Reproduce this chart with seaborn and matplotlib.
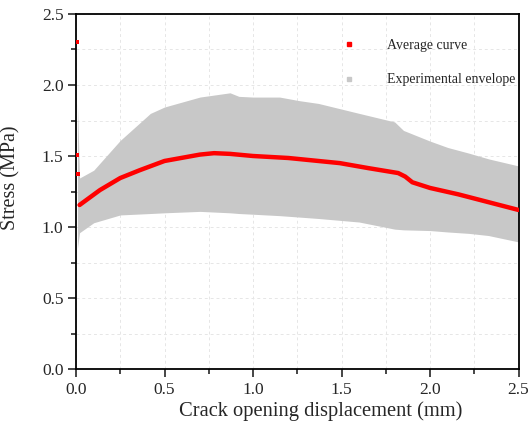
import seaborn as sns
import numpy as np
import pandas as pd
import matplotlib.pyplot as plt
from matplotlib.lines import Line2D
from matplotlib.ticker import MultipleLocator

# average curve
avg_x = [0.02, 0.135, 0.25, 0.36, 0.5, 0.7, 0.78, 0.87, 1.0, 1.2, 1.49, 1.65, 1.82, 1.86, 1.9, 2.0, 2.16, 2.33, 2.5]
avg_y = [1.155, 1.26, 1.345, 1.40, 1.465, 1.51, 1.52, 1.515, 1.50, 1.486, 1.45, 1.415, 1.38, 1.355, 1.315, 1.275, 1.23, 1.175, 1.12]

# stray points at the very start
start_x = [0.004, 0.004, 0.012]
start_y = [2.30, 1.505, 1.37]

# experimental envelope
env_x = [0.008, 0.02, 0.1, 0.25, 0.42, 0.5, 0.7, 0.87, 0.92, 1.0, 1.15, 1.26, 1.37, 1.6, 1.8, 1.85, 2.0, 2.1, 2.22, 2.33, 2.5]
env_hi = [1.87, 1.345, 1.40, 1.61, 1.80, 1.845, 1.915, 1.945, 1.92, 1.915, 1.915, 1.89, 1.87, 1.80, 1.74, 1.68, 1.605, 1.56, 1.52, 1.48, 1.43]
env_lo = [0.85, 0.96, 1.03, 1.085, 1.095, 1.10, 1.11, 1.10, 1.095, 1.09, 1.08, 1.07, 1.06, 1.035, 0.985, 0.98, 0.975, 0.965, 0.955, 0.94, 0.895]

red = "#ff0000"
grey = "#c8c8c8"

sns.set_style("white")
plt.rcParams['font.family'] = ['Liberation Serif', 'DejaVu Serif']

fig = plt.figure(figsize=(5.29, 4.32), dpi=100)
ax = fig.add_axes([0.1437, 0.1458, 0.8365, 0.8218])

ax.fill_between(env_x, env_lo, env_hi, color=grey, linewidth=0, zorder=1)
df = pd.DataFrame({"x": avg_x, "y": avg_y})
sns.lineplot(data=df, x="x", y="y", ax=ax, color=red, linewidth=3.2, zorder=3)
sns.scatterplot(x=start_x, y=start_y, ax=ax, color=red, s=8, marker="s",
                linewidth=0, zorder=3)

ax.set_xlim(0, 2.5)
ax.set_ylim(0, 2.5)
ax.xaxis.set_major_locator(MultipleLocator(0.5))
ax.xaxis.set_minor_locator(MultipleLocator(0.25))
ax.yaxis.set_major_locator(MultipleLocator(0.5))
ax.yaxis.set_minor_locator(MultipleLocator(0.25))
ax.grid(True, which="both", linestyle=(0, (3, 3)), color="#e6e6e6", linewidth=0.7, zorder=0)
ax.set_axisbelow(True)
ax.tick_params(which="major", direction="out", length=6, width=1.2, labelsize=12.5,
               bottom=True, left=True, pad=3)
ax.tick_params(which="minor", direction="out", length=3.5, width=1.2, bottom=True, left=True)
for s in ax.spines.values():
    s.set_color("black")
    s.set_linewidth(1.3)

ax.set_xlabel("Crack opening displacement (mm)", fontsize=14.8)
ax.xaxis.set_label_coords(0.552, -0.09)
ax.set_ylabel("Stress (MPa)", fontsize=14.5)
ax.yaxis.set_label_coords(-0.126, 0.538)

handles = [
    Line2D([], [], linestyle="none", marker="s", markersize=2.5, color=red),
    Line2D([], [], linestyle="none", marker="s", markersize=2.5, color=grey),
]
ax.legend(handles, ["Average curve", "Experimental envelope"], loc="upper right",
          frameon=False, fontsize=10, handlelength=2.0, handletextpad=1.7,
          labelspacing=1.55, bbox_to_anchor=(1.02, 0.965))

fig.savefig("out.png", dpi=100)
